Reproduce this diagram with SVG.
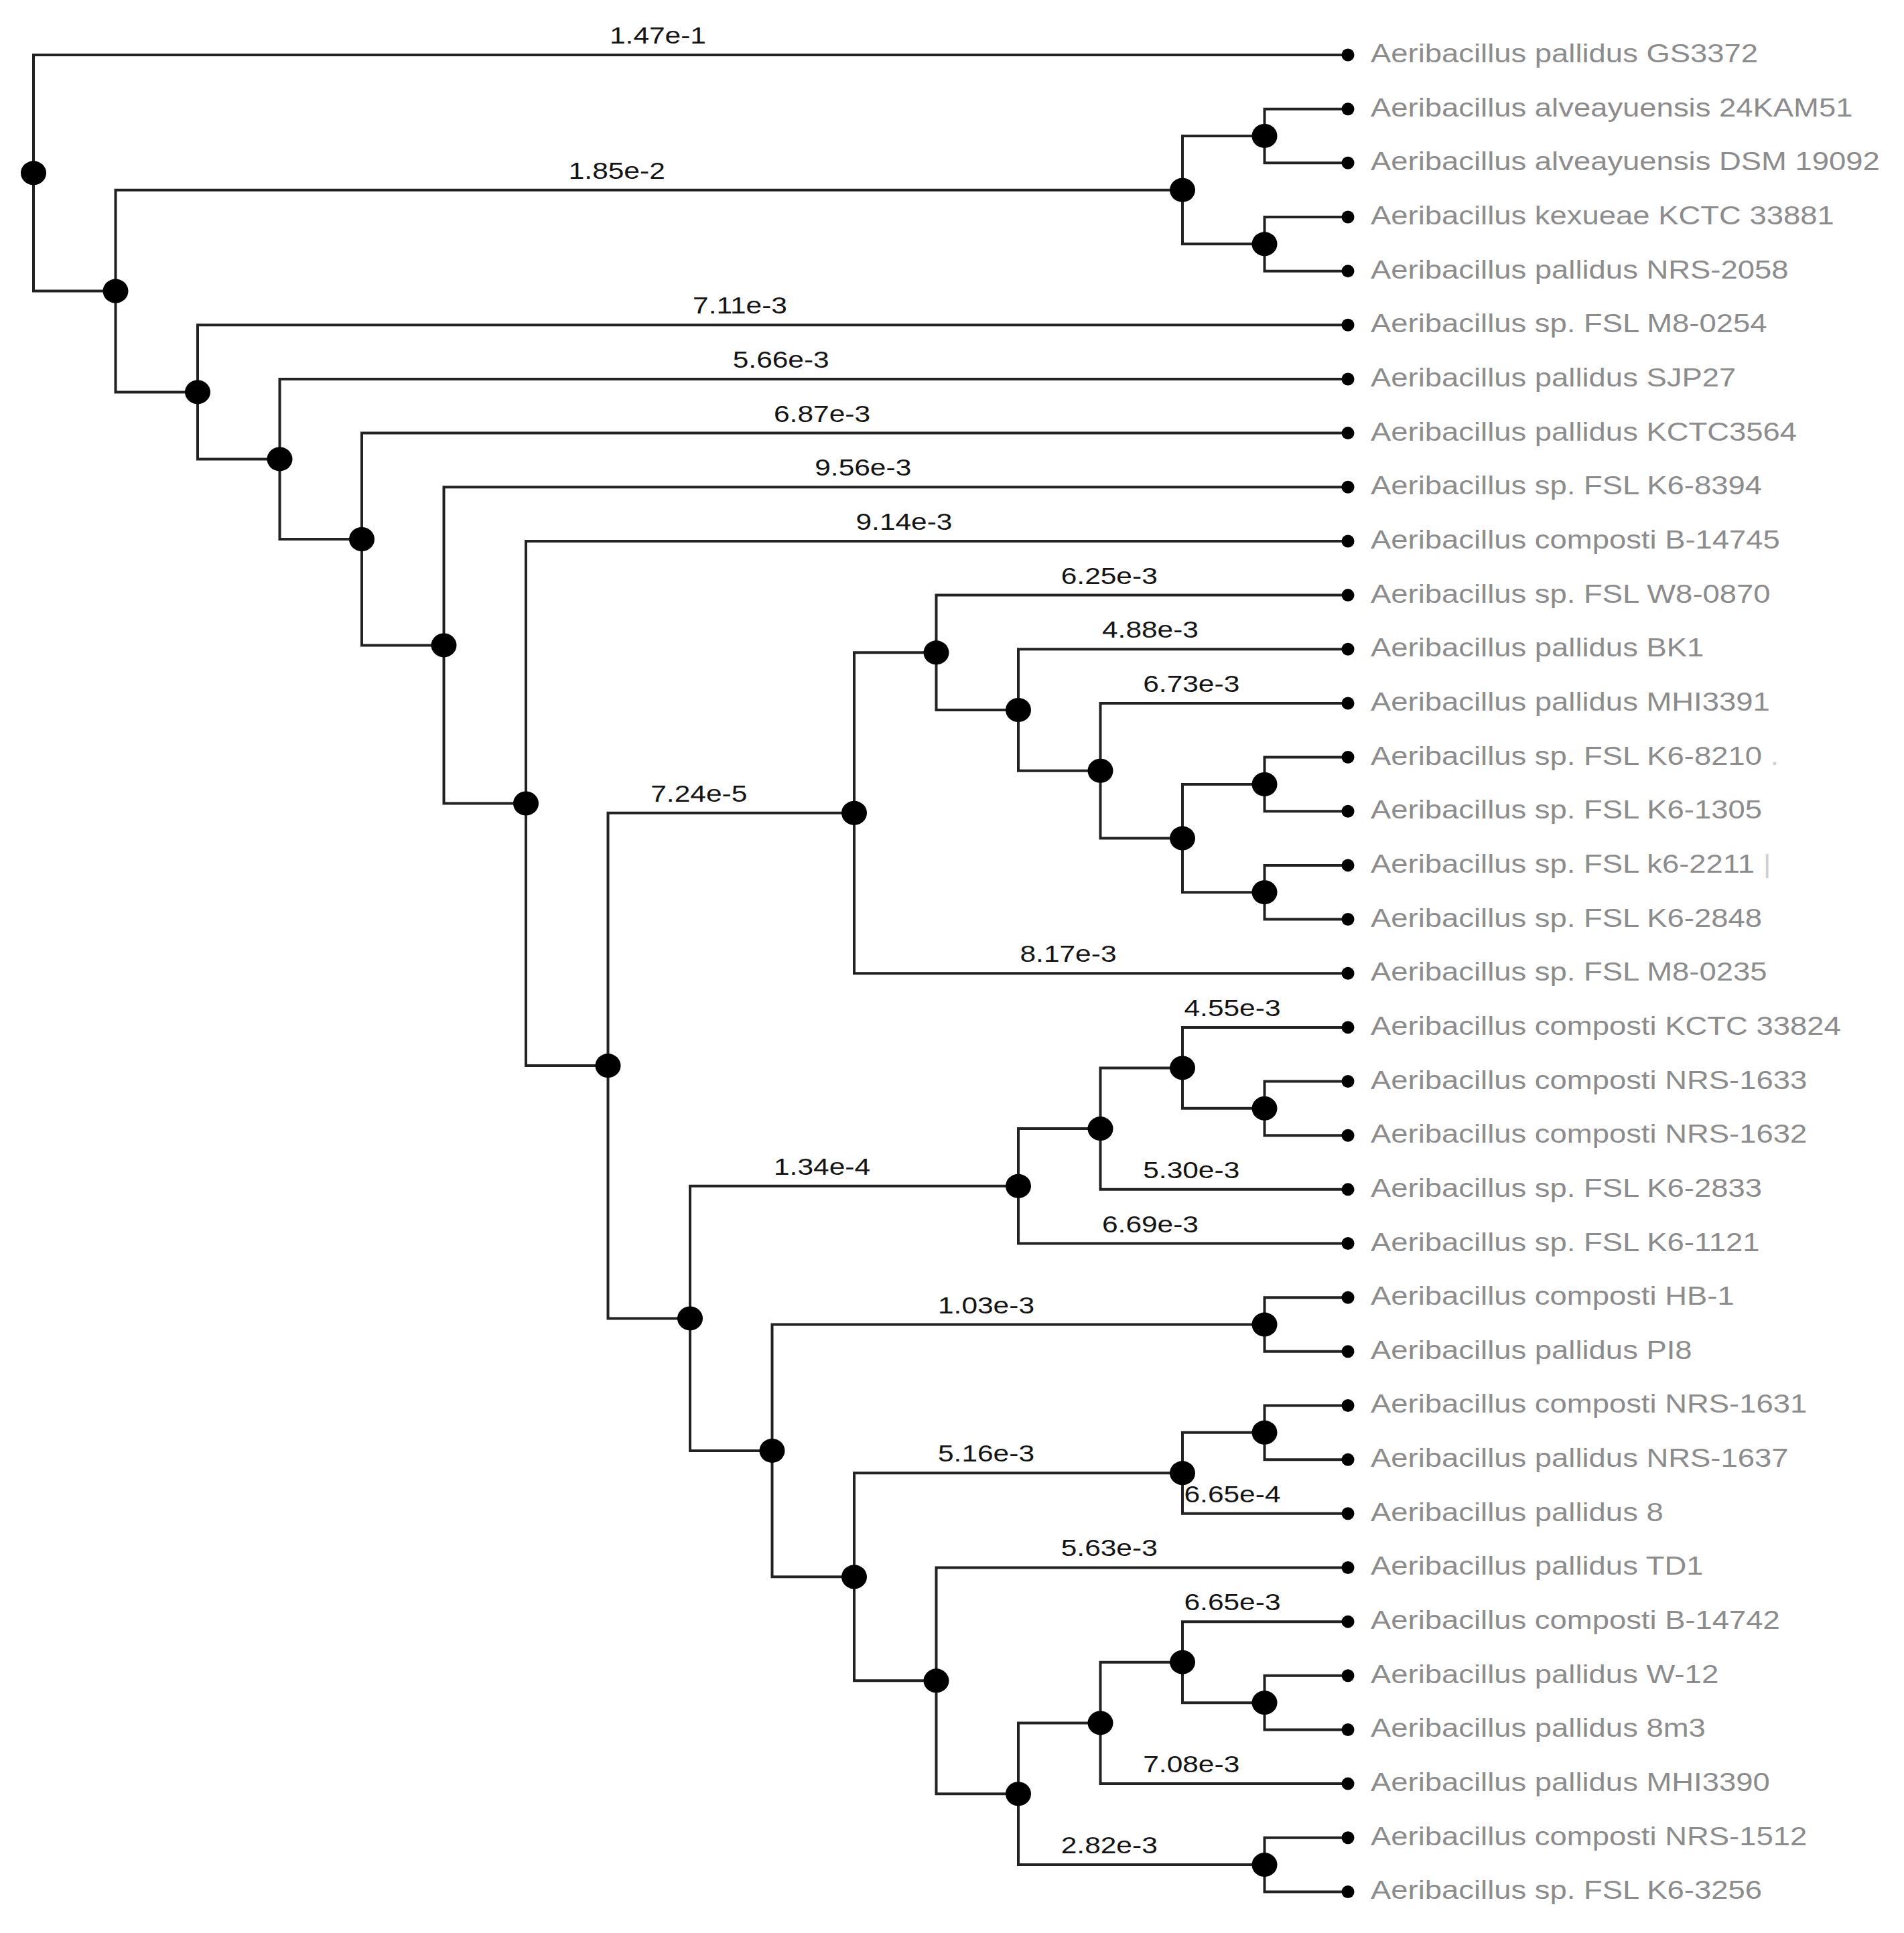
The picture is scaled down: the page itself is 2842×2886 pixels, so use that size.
<svg xmlns="http://www.w3.org/2000/svg" width="2842" height="2886" viewBox="0 0 2842 2886">
<style>
.bg{fill:#ffffff}
.edge{fill:none;stroke:#222;stroke-width:4;stroke-linecap:square}
.inode{fill:#000}
.ldot{fill:#000}
.leaf-label{font-family:"Liberation Sans",Arial,sans-serif;font-size:38.5px;fill:#8c8c8c}
.blen{font-family:"Liberation Sans",Arial,sans-serif;font-size:36px;fill:#141414;text-anchor:middle}
.faint{fill:#d0d0d0}
</style>
<rect class="bg" x="0" y="0" width="2842" height="2886"/>
<g id="edge-labels" transform="scale(1.18 1)">
<text class="blen" x="832.20" y="65">1.47e-1</text>
<text class="blen" x="780.30" y="266.65">1.85e-2</text>
<text class="blen" x="936.02" y="468.3">7.11e-3</text>
<text class="blen" x="987.92" y="548.96">5.66e-3</text>
<text class="blen" x="1039.83" y="629.62">6.87e-3</text>
<text class="blen" x="1091.74" y="710.28">9.56e-3</text>
<text class="blen" x="1143.64" y="790.94">9.14e-3</text>
<text class="blen" x="884.11" y="1196.76">7.24e-5</text>
<text class="blen" x="1351.27" y="1436.22">8.17e-3</text>
<text class="blen" x="1403.18" y="871.6">6.25e-3</text>
<text class="blen" x="1455.08" y="952.26">4.88e-3</text>
<text class="blen" x="1506.99" y="1032.92">6.73e-3</text>
<text class="blen" x="1039.83" y="1753.82">1.34e-4</text>
<text class="blen" x="1455.08" y="1839.52">6.69e-3</text>
<text class="blen" x="1506.99" y="1758.86">5.30e-3</text>
<text class="blen" x="1558.90" y="1516.88">4.55e-3</text>
<text class="blen" x="1247.46" y="1960.51">1.03e-3</text>
<text class="blen" x="1247.46" y="2182.33">5.16e-3</text>
<text class="blen" x="1558.90" y="2242.82">6.65e-4</text>
<text class="blen" x="1403.18" y="2323.48">5.63e-3</text>
<text class="blen" x="1403.18" y="2767.11">2.82e-3</text>
<text class="blen" x="1506.99" y="2646.12">7.08e-3</text>
<text class="blen" x="1558.90" y="2404.14">6.65e-3</text>
</g>
<g id="connectors">
<path class="edge" d="M50,258.26 V82 H2010"/>
<path class="edge" d="M50,258.26 V434.52 H172.5"/>
<path class="edge" d="M172.5,434.52 V283.65 H1765"/>
<path class="edge" d="M172.5,434.52 V585.39 H295"/>
<path class="edge" d="M295,585.39 V485.3 H2010"/>
<path class="edge" d="M295,585.39 V685.48 H417.5"/>
<path class="edge" d="M417.5,685.48 V565.96 H2010"/>
<path class="edge" d="M417.5,685.48 V805 H540"/>
<path class="edge" d="M540,805 V646.62 H2010"/>
<path class="edge" d="M540,805 V963.39 H662.5"/>
<path class="edge" d="M662.5,963.39 V727.28 H2010"/>
<path class="edge" d="M662.5,963.39 V1199.5 H785"/>
<path class="edge" d="M785,1199.5 V807.94 H2010"/>
<path class="edge" d="M785,1199.5 V1591.07 H907.5"/>
<path class="edge" d="M907.5,1591.07 V1213.76 H1275"/>
<path class="edge" d="M907.5,1591.07 V1968.38 H1030"/>
<path class="edge" d="M1765,283.65 V202.99 H1887.5"/>
<path class="edge" d="M1765,283.65 V364.31 H1887.5"/>
<path class="edge" d="M1887.5,202.99 V162.66 H2010"/>
<path class="edge" d="M1887.5,202.99 V243.32 H2010"/>
<path class="edge" d="M1887.5,364.31 V323.98 H2010"/>
<path class="edge" d="M1887.5,364.31 V404.64 H2010"/>
<path class="edge" d="M1275,1213.76 V974.3 H1397.5"/>
<path class="edge" d="M1275,1213.76 V1453.22 H2010"/>
<path class="edge" d="M1397.5,974.3 V888.6 H2010"/>
<path class="edge" d="M1397.5,974.3 V1060 H1520"/>
<path class="edge" d="M1520,1060 V969.26 H2010"/>
<path class="edge" d="M1520,1060 V1150.75 H1642.5"/>
<path class="edge" d="M1642.5,1150.75 V1049.92 H2010"/>
<path class="edge" d="M1642.5,1150.75 V1251.57 H1765"/>
<path class="edge" d="M1765,1251.57 V1170.91 H1887.5"/>
<path class="edge" d="M1765,1251.57 V1332.23 H1887.5"/>
<path class="edge" d="M1887.5,1170.91 V1130.58 H2010"/>
<path class="edge" d="M1887.5,1170.91 V1211.24 H2010"/>
<path class="edge" d="M1887.5,1332.23 V1291.9 H2010"/>
<path class="edge" d="M1887.5,1332.23 V1372.56 H2010"/>
<path class="edge" d="M1030,1968.38 V1770.82 H1520"/>
<path class="edge" d="M1030,1968.38 V2165.93 H1152.5"/>
<path class="edge" d="M1520,1770.82 V1685.12 H1642.5"/>
<path class="edge" d="M1520,1770.82 V1856.52 H2010"/>
<path class="edge" d="M1642.5,1685.12 V1594.38 H1765"/>
<path class="edge" d="M1642.5,1685.12 V1775.86 H2010"/>
<path class="edge" d="M1765,1594.38 V1533.88 H2010"/>
<path class="edge" d="M1765,1594.38 V1654.87 H1887.5"/>
<path class="edge" d="M1887.5,1654.87 V1614.54 H2010"/>
<path class="edge" d="M1887.5,1654.87 V1695.2 H2010"/>
<path class="edge" d="M1152.5,2165.93 V1977.51 H1887.5"/>
<path class="edge" d="M1152.5,2165.93 V2354.35 H1275"/>
<path class="edge" d="M1887.5,1977.51 V1937.18 H2010"/>
<path class="edge" d="M1887.5,1977.51 V2017.84 H2010"/>
<path class="edge" d="M1275,2354.35 V2199.33 H1765"/>
<path class="edge" d="M1275,2354.35 V2509.37 H1397.5"/>
<path class="edge" d="M1765,2199.33 V2138.83 H1887.5"/>
<path class="edge" d="M1765,2199.33 V2259.82 H2010"/>
<path class="edge" d="M1887.5,2138.83 V2098.5 H2010"/>
<path class="edge" d="M1887.5,2138.83 V2179.16 H2010"/>
<path class="edge" d="M1397.5,2509.37 V2340.48 H2010"/>
<path class="edge" d="M1397.5,2509.37 V2678.25 H1520"/>
<path class="edge" d="M1520,2678.25 V2572.38 H1642.5"/>
<path class="edge" d="M1520,2678.25 V2784.11 H1887.5"/>
<path class="edge" d="M1642.5,2572.38 V2481.64 H1765"/>
<path class="edge" d="M1642.5,2572.38 V2663.12 H2010"/>
<path class="edge" d="M1765,2481.64 V2421.14 H2010"/>
<path class="edge" d="M1765,2481.64 V2542.13 H1887.5"/>
<path class="edge" d="M1887.5,2542.13 V2501.8 H2010"/>
<path class="edge" d="M1887.5,2542.13 V2582.46 H2010"/>
<path class="edge" d="M1887.5,2784.11 V2743.78 H2010"/>
<path class="edge" d="M1887.5,2784.11 V2824.44 H2010"/>
</g>
<g id="internal-nodes">
<g id="n-root"><ellipse class="inode" cx="50" cy="258.26" rx="19" ry="18"/></g>
<g id="n-N1"><ellipse class="inode" cx="172.5" cy="434.52" rx="19" ry="18"/></g>
<g id="n-N2"><ellipse class="inode" cx="295" cy="585.39" rx="19" ry="18"/></g>
<g id="n-N3"><ellipse class="inode" cx="417.5" cy="685.48" rx="19" ry="18"/></g>
<g id="n-N4"><ellipse class="inode" cx="540" cy="805" rx="19" ry="18"/></g>
<g id="n-N5"><ellipse class="inode" cx="662.5" cy="963.39" rx="19" ry="18"/></g>
<g id="n-N6"><ellipse class="inode" cx="785" cy="1199.5" rx="19" ry="18"/></g>
<g id="n-N7"><ellipse class="inode" cx="907.5" cy="1591.07" rx="19" ry="18"/></g>
<g id="n-A"><ellipse class="inode" cx="1765" cy="283.65" rx="19" ry="18"/></g>
<g id="n-A1"><ellipse class="inode" cx="1887.5" cy="202.99" rx="19" ry="18"/></g>
<g id="n-A2"><ellipse class="inode" cx="1887.5" cy="364.31" rx="19" ry="18"/></g>
<g id="n-B"><ellipse class="inode" cx="1275" cy="1213.76" rx="19" ry="18"/></g>
<g id="n-B1"><ellipse class="inode" cx="1397.5" cy="974.3" rx="19" ry="18"/></g>
<g id="n-B2"><ellipse class="inode" cx="1520" cy="1060" rx="19" ry="18"/></g>
<g id="n-B3"><ellipse class="inode" cx="1642.5" cy="1150.75" rx="19" ry="18"/></g>
<g id="n-B4"><ellipse class="inode" cx="1765" cy="1251.57" rx="19" ry="18"/></g>
<g id="n-B5"><ellipse class="inode" cx="1887.5" cy="1170.91" rx="19" ry="18"/></g>
<g id="n-B6"><ellipse class="inode" cx="1887.5" cy="1332.23" rx="19" ry="18"/></g>
<g id="n-C"><ellipse class="inode" cx="1030" cy="1968.38" rx="19" ry="18"/></g>
<g id="n-D"><ellipse class="inode" cx="1520" cy="1770.82" rx="19" ry="18"/></g>
<g id="n-D1"><ellipse class="inode" cx="1642.5" cy="1685.12" rx="19" ry="18"/></g>
<g id="n-D2"><ellipse class="inode" cx="1765" cy="1594.38" rx="19" ry="18"/></g>
<g id="n-D3"><ellipse class="inode" cx="1887.5" cy="1654.87" rx="19" ry="18"/></g>
<g id="n-E"><ellipse class="inode" cx="1152.5" cy="2165.93" rx="19" ry="18"/></g>
<g id="n-F"><ellipse class="inode" cx="1887.5" cy="1977.51" rx="19" ry="18"/></g>
<g id="n-G"><ellipse class="inode" cx="1275" cy="2354.35" rx="19" ry="18"/></g>
<g id="n-H"><ellipse class="inode" cx="1765" cy="2199.33" rx="19" ry="18"/></g>
<g id="n-H1"><ellipse class="inode" cx="1887.5" cy="2138.83" rx="19" ry="18"/></g>
<g id="n-I"><ellipse class="inode" cx="1397.5" cy="2509.37" rx="19" ry="18"/></g>
<g id="n-J"><ellipse class="inode" cx="1520" cy="2678.25" rx="19" ry="18"/></g>
<g id="n-K"><ellipse class="inode" cx="1642.5" cy="2572.38" rx="19" ry="18"/></g>
<g id="n-K1"><ellipse class="inode" cx="1765" cy="2481.64" rx="19" ry="18"/></g>
<g id="n-K2"><ellipse class="inode" cx="1887.5" cy="2542.13" rx="19" ry="18"/></g>
<g id="n-L"><ellipse class="inode" cx="1887.5" cy="2784.11" rx="19" ry="18"/></g>
</g>
<g id="leaves">
<g id="leaf-01"><circle class="ldot" cx="2012" cy="82" r="9.5"/><text class="leaf-label" transform="scale(1.18 1)" x="1733.9" y="93">Aeribacillus pallidus GS3372</text></g>
<g id="leaf-02"><circle class="ldot" cx="2012" cy="162.66" r="9.5"/><text class="leaf-label" transform="scale(1.18 1)" x="1733.9" y="173.66">Aeribacillus alveayuensis 24KAM51</text></g>
<g id="leaf-03"><circle class="ldot" cx="2012" cy="243.32" r="9.5"/><text class="leaf-label" transform="scale(1.18 1)" x="1733.9" y="254.32">Aeribacillus alveayuensis DSM 19092</text></g>
<g id="leaf-04"><circle class="ldot" cx="2012" cy="323.98" r="9.5"/><text class="leaf-label" transform="scale(1.18 1)" x="1733.9" y="334.98">Aeribacillus kexueae KCTC 33881</text></g>
<g id="leaf-05"><circle class="ldot" cx="2012" cy="404.64" r="9.5"/><text class="leaf-label" transform="scale(1.18 1)" x="1733.9" y="415.64">Aeribacillus pallidus NRS-2058</text></g>
<g id="leaf-06"><circle class="ldot" cx="2012" cy="485.3" r="9.5"/><text class="leaf-label" transform="scale(1.18 1)" x="1733.9" y="496.3">Aeribacillus sp. FSL M8-0254</text></g>
<g id="leaf-07"><circle class="ldot" cx="2012" cy="565.96" r="9.5"/><text class="leaf-label" transform="scale(1.18 1)" x="1733.9" y="576.96">Aeribacillus pallidus SJP27</text></g>
<g id="leaf-08"><circle class="ldot" cx="2012" cy="646.62" r="9.5"/><text class="leaf-label" transform="scale(1.18 1)" x="1733.9" y="657.62">Aeribacillus pallidus KCTC3564</text></g>
<g id="leaf-09"><circle class="ldot" cx="2012" cy="727.28" r="9.5"/><text class="leaf-label" transform="scale(1.18 1)" x="1733.9" y="738.28">Aeribacillus sp. FSL K6-8394</text></g>
<g id="leaf-10"><circle class="ldot" cx="2012" cy="807.94" r="9.5"/><text class="leaf-label" transform="scale(1.18 1)" x="1733.9" y="818.94">Aeribacillus composti B-14745</text></g>
<g id="leaf-11"><circle class="ldot" cx="2012" cy="888.6" r="9.5"/><text class="leaf-label" transform="scale(1.18 1)" x="1733.9" y="899.6">Aeribacillus sp. FSL W8-0870</text></g>
<g id="leaf-12"><circle class="ldot" cx="2012" cy="969.26" r="9.5"/><text class="leaf-label" transform="scale(1.18 1)" x="1733.9" y="980.26">Aeribacillus pallidus BK1</text></g>
<g id="leaf-13"><circle class="ldot" cx="2012" cy="1049.92" r="9.5"/><text class="leaf-label" transform="scale(1.18 1)" x="1733.9" y="1060.92">Aeribacillus pallidus MHI3391</text></g>
<g id="leaf-14"><circle class="ldot" cx="2012" cy="1130.58" r="9.5"/><text class="leaf-label" transform="scale(1.18 1)" x="1733.9" y="1141.58">Aeribacillus sp. FSL K6-8210 <tspan class="faint">.</tspan></text></g>
<g id="leaf-15"><circle class="ldot" cx="2012" cy="1211.24" r="9.5"/><text class="leaf-label" transform="scale(1.18 1)" x="1733.9" y="1222.24">Aeribacillus sp. FSL K6-1305</text></g>
<g id="leaf-16"><circle class="ldot" cx="2012" cy="1291.9" r="9.5"/><text class="leaf-label" transform="scale(1.18 1)" x="1733.9" y="1302.9">Aeribacillus sp. FSL k6-2211 <tspan class="faint">|</tspan></text></g>
<g id="leaf-17"><circle class="ldot" cx="2012" cy="1372.56" r="9.5"/><text class="leaf-label" transform="scale(1.18 1)" x="1733.9" y="1383.56">Aeribacillus sp. FSL K6-2848</text></g>
<g id="leaf-18"><circle class="ldot" cx="2012" cy="1453.22" r="9.5"/><text class="leaf-label" transform="scale(1.18 1)" x="1733.9" y="1464.22">Aeribacillus sp. FSL M8-0235</text></g>
<g id="leaf-19"><circle class="ldot" cx="2012" cy="1533.88" r="9.5"/><text class="leaf-label" transform="scale(1.18 1)" x="1733.9" y="1544.88">Aeribacillus composti KCTC 33824</text></g>
<g id="leaf-20"><circle class="ldot" cx="2012" cy="1614.54" r="9.5"/><text class="leaf-label" transform="scale(1.18 1)" x="1733.9" y="1625.54">Aeribacillus composti NRS-1633</text></g>
<g id="leaf-21"><circle class="ldot" cx="2012" cy="1695.2" r="9.5"/><text class="leaf-label" transform="scale(1.18 1)" x="1733.9" y="1706.2">Aeribacillus composti NRS-1632</text></g>
<g id="leaf-22"><circle class="ldot" cx="2012" cy="1775.86" r="9.5"/><text class="leaf-label" transform="scale(1.18 1)" x="1733.9" y="1786.86">Aeribacillus sp. FSL K6-2833</text></g>
<g id="leaf-23"><circle class="ldot" cx="2012" cy="1856.52" r="9.5"/><text class="leaf-label" transform="scale(1.18 1)" x="1733.9" y="1867.52">Aeribacillus sp. FSL K6-1121</text></g>
<g id="leaf-24"><circle class="ldot" cx="2012" cy="1937.18" r="9.5"/><text class="leaf-label" transform="scale(1.18 1)" x="1733.9" y="1948.18">Aeribacillus composti HB-1</text></g>
<g id="leaf-25"><circle class="ldot" cx="2012" cy="2017.84" r="9.5"/><text class="leaf-label" transform="scale(1.18 1)" x="1733.9" y="2028.84">Aeribacillus pallidus PI8</text></g>
<g id="leaf-26"><circle class="ldot" cx="2012" cy="2098.5" r="9.5"/><text class="leaf-label" transform="scale(1.18 1)" x="1733.9" y="2109.5">Aeribacillus composti NRS-1631</text></g>
<g id="leaf-27"><circle class="ldot" cx="2012" cy="2179.16" r="9.5"/><text class="leaf-label" transform="scale(1.18 1)" x="1733.9" y="2190.16">Aeribacillus pallidus NRS-1637</text></g>
<g id="leaf-28"><circle class="ldot" cx="2012" cy="2259.82" r="9.5"/><text class="leaf-label" transform="scale(1.18 1)" x="1733.9" y="2270.82">Aeribacillus pallidus 8</text></g>
<g id="leaf-29"><circle class="ldot" cx="2012" cy="2340.48" r="9.5"/><text class="leaf-label" transform="scale(1.18 1)" x="1733.9" y="2351.48">Aeribacillus pallidus TD1</text></g>
<g id="leaf-30"><circle class="ldot" cx="2012" cy="2421.14" r="9.5"/><text class="leaf-label" transform="scale(1.18 1)" x="1733.9" y="2432.14">Aeribacillus composti B-14742</text></g>
<g id="leaf-31"><circle class="ldot" cx="2012" cy="2501.8" r="9.5"/><text class="leaf-label" transform="scale(1.18 1)" x="1733.9" y="2512.8">Aeribacillus pallidus W-12</text></g>
<g id="leaf-32"><circle class="ldot" cx="2012" cy="2582.46" r="9.5"/><text class="leaf-label" transform="scale(1.18 1)" x="1733.9" y="2593.46">Aeribacillus pallidus 8m3</text></g>
<g id="leaf-33"><circle class="ldot" cx="2012" cy="2663.12" r="9.5"/><text class="leaf-label" transform="scale(1.18 1)" x="1733.9" y="2674.12">Aeribacillus pallidus MHI3390</text></g>
<g id="leaf-34"><circle class="ldot" cx="2012" cy="2743.78" r="9.5"/><text class="leaf-label" transform="scale(1.18 1)" x="1733.9" y="2754.78">Aeribacillus composti NRS-1512</text></g>
<g id="leaf-35"><circle class="ldot" cx="2012" cy="2824.44" r="9.5"/><text class="leaf-label" transform="scale(1.18 1)" x="1733.9" y="2835.44">Aeribacillus sp. FSL K6-3256</text></g>
</g>
</svg>
